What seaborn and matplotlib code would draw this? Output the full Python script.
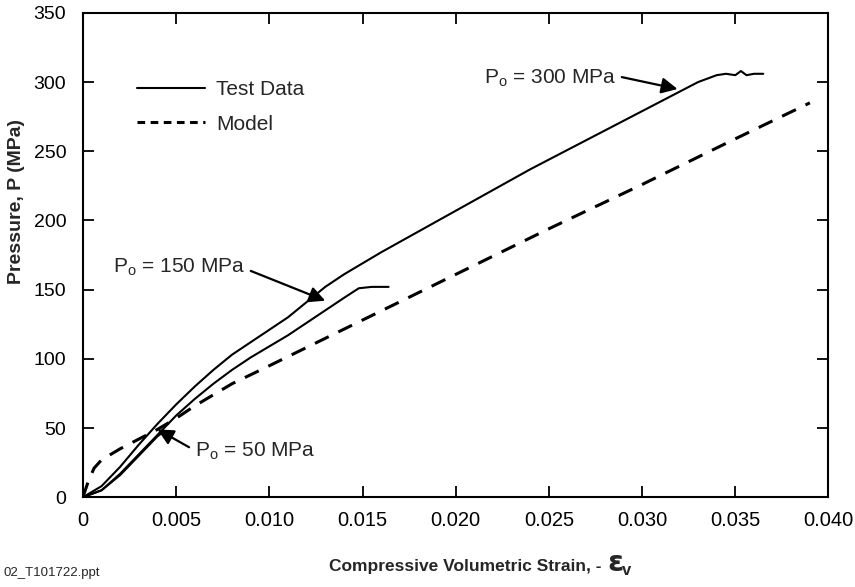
import matplotlib
matplotlib.use("Agg")
import matplotlib.pyplot as plt
from matplotlib.lines import Line2D
import seaborn as sns
import pandas as pd

# ---- data ----
strain_300 = [0, 0.001, 0.002, 0.003, 0.004, 0.005, 0.006, 0.007, 0.008, 0.009, 0.010,
              0.011, 0.012, 0.013, 0.014, 0.015, 0.016, 0.018, 0.020, 0.022, 0.024,
              0.026, 0.028, 0.030, 0.032, 0.033, 0.034, 0.0345, 0.0350, 0.0353, 0.0356,
              0.0360, 0.0365]
press_300 = [0, 8, 22, 38, 53, 67, 80, 92, 103, 112, 121,
             130, 141, 152, 161, 169, 177, 192, 207, 222, 237,
             251, 265, 279, 293, 300, 305, 306, 305, 308, 305,
             306, 306]

strain_150 = [0, 0.001, 0.002, 0.003, 0.004, 0.005, 0.006, 0.007, 0.008, 0.009, 0.010,
              0.011, 0.012, 0.013, 0.014, 0.0148, 0.0155, 0.0164]
press_150 = [0, 5, 17, 31, 45, 59, 71, 82, 92, 101, 109,
             117, 126, 135, 144, 151, 152, 152]

strain_50 = [0, 0.001, 0.002, 0.003, 0.004, 0.0043]
press_50 = [0, 5, 16, 30, 44, 47]

strain_model = [0, 0.0003, 0.0006, 0.001, 0.002, 0.003, 0.004, 0.005, 0.006, 0.008,
                0.010, 0.015, 0.020, 0.025, 0.030, 0.035, 0.039]
press_model = [0, 12, 21, 27, 35, 42, 49, 57, 66, 82,
               95, 128, 161, 194, 226, 259, 285]

x_ticks = [0, 0.005, 0.010, 0.015, 0.020, 0.025, 0.030, 0.035, 0.040]
x_tick_labels = ["0", "0.005", "0.010", "0.015", "0.020", "0.025", "0.030", "0.035", "0.040"]
y_ticks = [0, 50, 100, 150, 200, 250, 300, 350]

sns.set_theme(style="ticks")
plt.rcParams["font.family"] = ["Liberation Sans", "DejaVu Sans"]
plt.rcParams["mathtext.fontset"] = "custom"
plt.rcParams["mathtext.rm"] = "Liberation Sans"
plt.rcParams["mathtext.it"] = "Liberation Sans:italic"
plt.rcParams["mathtext.bf"] = "Liberation Sans:bold"

fig = plt.figure(figsize=(8.55, 5.87), dpi=100)
ax = fig.add_axes([0.097, 0.153, 0.872, 0.825])

for sx, py in [(strain_300, press_300), (strain_150, press_150), (strain_50, press_50)]:
    df = pd.DataFrame({"strain": sx, "pressure": py})
    sns.lineplot(data=df, x="strain", y="pressure", ax=ax, sort=False, estimator=None,
                 color="black", lw=1.5)

dfm = pd.DataFrame({"strain": strain_model, "pressure": press_model})
sns.lineplot(data=dfm, x="strain", y="pressure", ax=ax, sort=False, estimator=None,
             color="black", lw=2.2)
ax.lines[-1].set_dashes((5, 3.5))

ax.set_xlim(0, 0.040)
ax.set_ylim(0, 350)
ax.set_xticks(x_ticks)
ax.set_xticklabels(x_tick_labels, fontsize=14.5)
ax.set_yticks(y_ticks)
ax.tick_params(direction="in", length=8, width=1.3, top=True, right=True, colors="black")
ax.tick_params(axis="y", labelsize=14, pad=12)
ax.tick_params(axis="x", pad=10)
for s in ax.spines.values():
    s.set_linewidth(1.5)
    s.set_color("black")

ax.set_ylabel("Pressure, P (MPa)", fontsize=14, fontweight="bold", labelpad=6)
ax.yaxis.label.set_position((0, 0.61))
ax.set_xlabel("")

# x-axis title with enlarged upright epsilon
base_y = 1 - 571 / 587
fig.text(601 / 855, base_y, "Compressive Volumetric Strain, -", fontsize=12.5,
         fontweight="bold", ha="right", va="baseline")
fig.text(607 / 855, base_y, "\u025b", fontsize=21, fontweight="bold",
         family=["DejaVu Sans"], ha="left", va="baseline")
fig.text(622 / 855, base_y - 4 / 587, "v", fontsize=12, fontweight="bold",
         ha="left", va="baseline")

handles = [Line2D([0], [0], color="black", lw=1.5),
           Line2D([0], [0], color="black", lw=2.2, dashes=(2.5, 1.8))]
ax.legend(handles, ["Test Data", "Model"], loc="upper left", bbox_to_anchor=(0.047, 0.90),
          frameon=False, fontsize=15, handlelength=3.3, labelspacing=0.75,
          handletextpad=0.5, borderpad=0.4)

ap = dict(arrowstyle="-|>", color="black", lw=1.6, mutation_scale=24, shrinkA=2, shrinkB=0)
ax.annotate(r"P$_\mathregular{o}$ = 300 MPa", xy=(0.0319, 295), xytext=(0.0215, 303),
            fontsize=15, va="center", ha="left", arrowprops=dict(ap, relpos=(1, 0.6)))
ax.annotate(r"P$_\mathregular{o}$ = 150 MPa", xy=(0.0130, 142), xytext=(0.0016, 166),
            fontsize=15, va="center", ha="left", arrowprops=dict(ap, relpos=(1, 0.45)))
ax.annotate(r"P$_\mathregular{o}$ = 50 MPa", xy=(0.0040, 49), xytext=(0.0060, 33),
            fontsize=15, va="center", ha="left", arrowprops=dict(ap, relpos=(0, 0.55)))

fig.text(0.004, 0.013, "02_T101722.ppt", fontsize=9.5, ha="left", va="bottom")

fig.savefig("out.png", dpi=100)
